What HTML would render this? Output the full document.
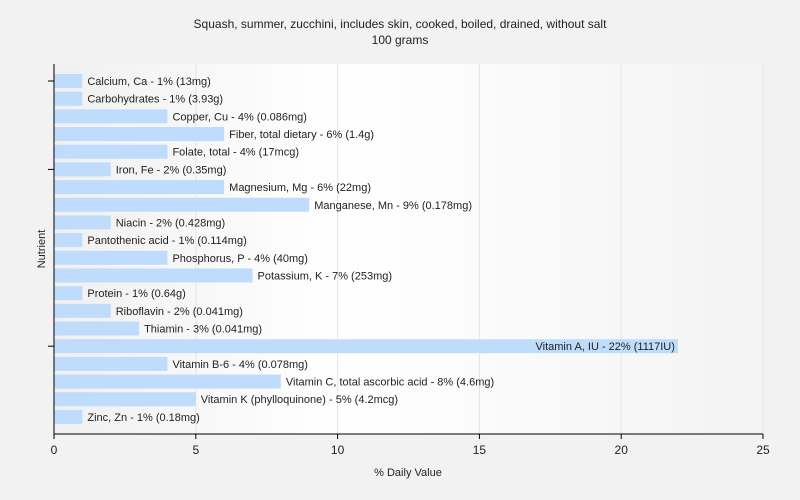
<!DOCTYPE html>
<html><head><meta charset="utf-8"><style>
body{margin:0;background:#f2f2f2;}
svg{display:block;font-family:"Liberation Sans",sans-serif;}
</style></head><body>
<svg id="chart" width="800" height="500" viewBox="0 0 800 500">
<defs><linearGradient id="bg" x1="0" x2="1" y1="0" y2="0"><stop offset="0" stop-color="#f0f0f0"/><stop offset="0.4" stop-color="#ffffff"/><stop offset="1" stop-color="#f3f3f3"/></linearGradient></defs>
<rect x="0" y="0" width="800" height="500" fill="#f2f2f2"/>
<text x="400" y="28" text-anchor="middle" font-size="12" fill="#222">Squash, summer, zucchini, includes skin, cooked, boiled, drained, without salt</text>
<text x="400" y="44" text-anchor="middle" font-size="12" fill="#222">100 grams</text>
<rect x="54" y="64" width="709" height="370" fill="url(#bg)"/>
<g id="grid"></g><g id="bars"></g><g id="axes"></g>
<text x="408" y="476" text-anchor="middle" font-size="11" fill="#222">% Daily Value</text>
<text x="45" y="249" text-anchor="middle" font-size="11" fill="#222" transform="rotate(-90 45 249)">Nutrient</text>
</svg>
<script>
const categories=["Calcium, Ca","Carbohydrates","Copper, Cu","Fiber, total dietary","Folate, total","Iron, Fe","Magnesium, Mg","Manganese, Mn","Niacin","Pantothenic acid","Phosphorus, P","Potassium, K","Protein","Riboflavin","Thiamin","Vitamin A, IU","Vitamin B-6","Vitamin C, total ascorbic acid","Vitamin K (phylloquinone)","Zinc, Zn"];
const values=[1,1,4,6,4,2,6,9,2,1,4,7,1,2,3,22,4,8,5,1];
const amounts=["13mg","3.93g","0.086mg","1.4g","17mcg","0.35mg","22mg","0.178mg","0.428mg","0.114mg","40mg","253mg","0.64g","0.041mg","0.041mg","1117IU","0.078mg","4.6mg","4.2mcg","0.18mg"];
const xTicks=[0,5,10,15,20,25];
const NS="http://www.w3.org/2000/svg";
const x0=54,x1=763,xMax=25,yTop=64,yBot=434;
const xs=v=>x0+v/xMax*(x1-x0);
const band=17.68,firstCenter=81;
const yc=i=>firstCenter+i*band;
function mk(t,a,p){const e=document.createElementNS(NS,t);for(const k in a)e.setAttribute(k,a[k]);p.appendChild(e);return e;}
const grid=document.getElementById('grid'),bars=document.getElementById('bars'),axes=document.getElementById('axes');
xTicks.forEach(t=>{if(t>0){const g=mk('line',{x1:xs(t),x2:xs(t),y1:yTop,y2:yBot,stroke:'#e4e4e4'},grid);

}
const tk=mk('line',{x1:xs(t),x2:xs(t),y1:yBot,y2:yBot+5,stroke:'#000'},axes);


const lb=mk('text',{x:xs(t),y:yBot+20,'text-anchor':'middle','font-size':12,fill:'#222'},axes);lb.textContent=t;

});
categories.forEach((c,i)=>{const w=xs(values[i])-x0;
const r=mk('rect',{x:x0,y:yc(i)-7,width:w,height:14,fill:'#c0dcfc'},bars);


const inside=values[i]>15;
const t=mk('text',{x:inside?xs(values[i])-3:xs(values[i])+5,y:yc(i)+4,'text-anchor':inside?'end':'start','font-size':11,fill:'#222'},bars);
t.textContent=c+' - '+values[i]+'% ('+amounts[i]+')';

});
[0,5,15].forEach(i=>{const tk=mk('line',{x1:x0-6,x2:x0,y1:yc(i),y2:yc(i),stroke:'#000'},axes);

});
const ya=mk('line',{x1:x0,x2:x0,y1:yTop,y2:yBot,stroke:'#000'},axes);


const xa=mk('line',{x1:x0,x2:x1,y1:yBot,y2:yBot,stroke:'#000'},axes);


</script>
</body></html>
